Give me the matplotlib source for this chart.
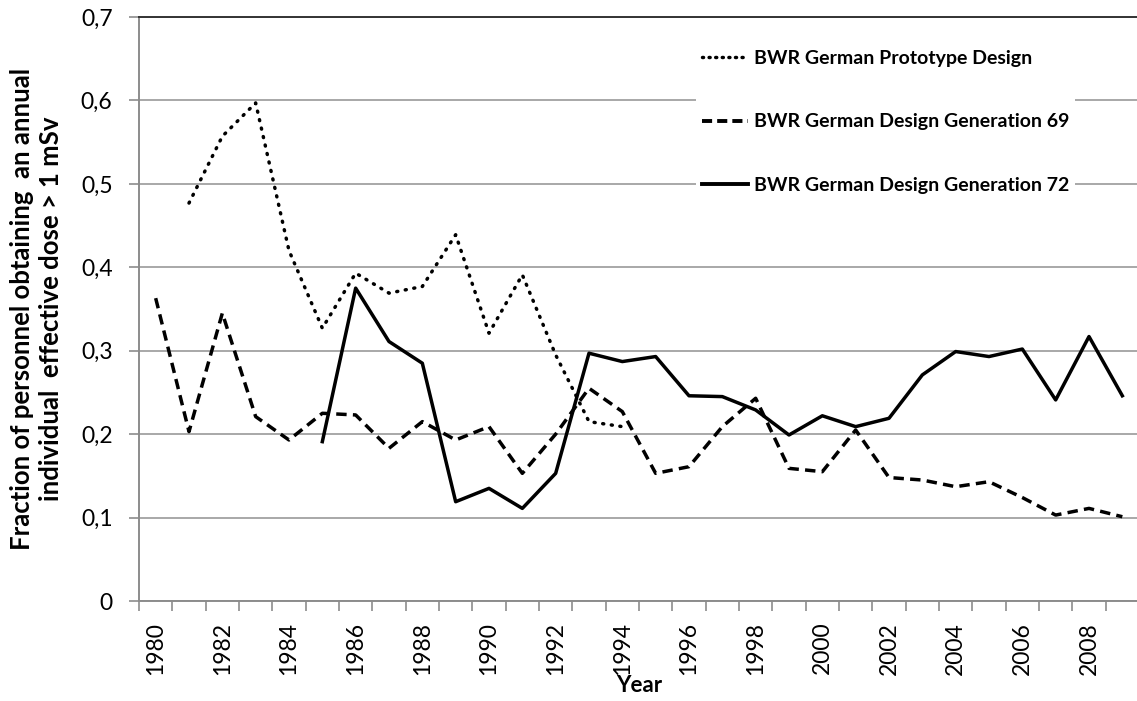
"""Fraction of BWR personnel above 1 mSv annual dose, by design generation."""

import matplotlib
matplotlib.use("Agg")
import matplotlib.pyplot as plt
from matplotlib.lines import Line2D

years = list(range(1980, 2010))

# values per year, None where the series has no data
prototype = [None, 0.477, 0.557, 0.597, 0.42, 0.327, 0.393, 0.369, 0.377, 0.439,
             0.321, 0.391, 0.295, 0.215, 0.209] + [None] * 15
gen69 = [0.363, 0.203, 0.345, 0.221, 0.193, 0.225, 0.223, 0.183, 0.215, 0.193,
         0.209, 0.153, 0.200, 0.255, 0.227, 0.153, 0.161, 0.209, 0.243, 0.159,
         0.155, 0.205, 0.148, 0.145, 0.137, 0.143, 0.124, 0.103, 0.111, 0.101]
gen72 = [None] * 5 + [0.191, 0.375, 0.311, 0.285, 0.119, 0.135, 0.111, 0.153,
                      0.297, 0.287, 0.293, 0.246, 0.245, 0.229, 0.199, 0.222,
                      0.209, 0.219, 0.271, 0.299, 0.293, 0.302, 0.241, 0.317, 0.246]

labels = ["BWR German Prototype Design",
          "BWR German Design Generation 69",
          "BWR German Design Generation 72"]
y_ticks = [0, 0.1, 0.2, 0.3, 0.4, 0.5, 0.6, 0.7]
y_tick_labels = ["0", "0,1", "0,2", "0,3", "0,4", "0,5", "0,6", "0,7"]

plt.rcParams["font.family"] = ["Lato", "DejaVu Sans"]

W, H = 1137, 701
fig = plt.figure(figsize=(W / 100, H / 100), dpi=100)
ax = fig.add_axes([139 / W, 100 / H, 1000 / W, 584 / H])


def _xy(vals):
    pts = [(i, v) for i, v in enumerate(vals) if v is not None]
    return [p[0] for p in pts], [p[1] for p in pts]


LW = 2.5
x, y = _xy(prototype)
ax.plot(x, y, color="black", lw=LW, linestyle=(0, (0.3, 2.2)),
        dash_capstyle="round", label=labels[0], zorder=3)
x, y = _xy(gen69)
ax.plot(x, y, color="black", lw=LW, linestyle=(0, (3.0, 1.8)),
        label=labels[1], zorder=3)
x, y = _xy(gen72)
ax.plot(x, y, color="black", lw=LW, linestyle="-", label=labels[2], zorder=3)

ax.set_xlim(-0.5, len(years) - 0.5)
ax.set_ylim(0, 0.7)

ax.set_yticks(y_ticks)
ax.set_yticklabels(y_tick_labels, fontsize=16.5)
ax.yaxis.grid(True, color="#9a9a9a", lw=1.2)
ax.set_axisbelow(True)

# category boundaries carry the tick marks, labels sit on every other year
ax.set_xticks([i - 0.5 for i in range(len(years) + 1)])
ax.set_xticklabels([])
ax.set_xticks([i for i in range(0, len(years), 2)], minor=True)
ax.set_xticklabels([str(years[i]) for i in range(0, len(years), 2)],
                   minor=True, rotation=90, fontsize=16.5)
ax.tick_params(axis="x", which="major", length=7, color="#8c8c8c", width=1.2)
ax.tick_params(axis="x", which="minor", length=0, pad=15)
ax.tick_params(axis="y", length=7, color="#8c8c8c", width=1.2, pad=12)

for side in ("left", "bottom"):
    ax.spines[side].set_color("#8c8c8c")
    ax.spines[side].set_linewidth(1.4)
ax.spines["top"].set_color("#333333")
ax.spines["top"].set_linewidth(1.4)
ax.spines["right"].set_visible(False)

fig.text(639 / W, 1 - 675 / H, "Year", ha="center", va="top",
         fontsize=16, fontweight="bold")
fig.text(37 / W, 1 - 309 / H,
         "Fraction of personnel obtaining  an annual\n"
         "individual  effective dose > 1 mSv",
         rotation=90, ha="center", va="center", multialignment="center",
         fontsize=18.5, fontweight="bold", linespacing=1.25)

handles = [
    Line2D([], [], color="black", lw=LW, linestyle=(0, (0.3, 1.6)),
           dash_capstyle="round"),
    Line2D([], [], color="black", lw=2.8, linestyle=(0, (2.6, 1.3))),
    Line2D([], [], color="black", lw=2.8),
]
ax.legend(handles, labels, loc="upper left",
          bbox_to_anchor=(696 / W, 1 - 44 / H), bbox_transform=fig.transFigure,
          frameon=True, fancybox=False, framealpha=1, edgecolor="none",
          prop={"family": "Lato", "weight": "bold", "size": 14},
          handlelength=2.37, handletextpad=0.3, labelspacing=2.4,
          borderpad=0.3, borderaxespad=0)

fig.savefig("out.png", dpi=100)
